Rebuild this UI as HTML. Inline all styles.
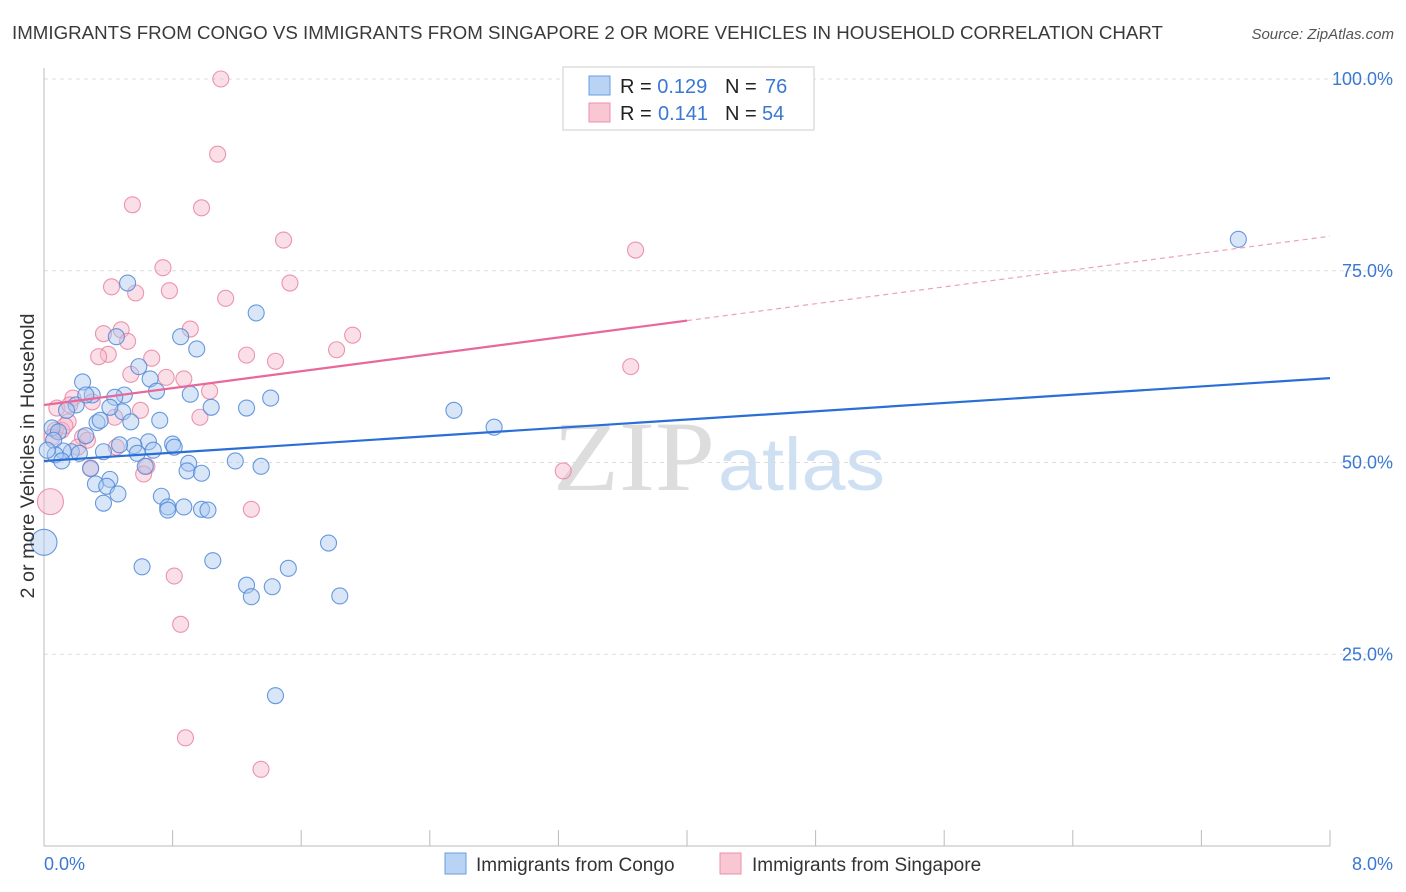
<!DOCTYPE html>
<html><head><meta charset="utf-8"><style>
body{margin:0;background:#fff;font-family:"Liberation Sans",sans-serif;}
#wrap{position:relative;width:1406px;height:892px;overflow:hidden;}
</style></head><body>
<div id="wrap">
<svg id="chart" width="1406" height="892" xmlns="http://www.w3.org/2000/svg">
<text x="12" y="39" font-size="18" fill="#3a3a3a" textLength="1151" lengthAdjust="spacingAndGlyphs">IMMIGRANTS FROM CONGO VS IMMIGRANTS FROM SINGAPORE 2 OR MORE VEHICLES IN HOUSEHOLD CORRELATION CHART</text>
<text x="1394" y="39" font-size="15" fill="#555" font-style="italic" text-anchor="end">Source: ZipAtlas.com</text>
<text x="715" y="490" font-size="100" fill="#ddd" font-family="Liberation Serif,serif" text-anchor="end" textLength="162" lengthAdjust="spacingAndGlyphs">ZIP</text>
<text x="718" y="490" font-size="74" fill="#cfe0f3" text-anchor="start" textLength="167" lengthAdjust="spacingAndGlyphs">atlas</text>
<g id="grid"></g><g id="axes"></g><g id="pts"></g><g id="lines"></g>
<text x="34" y="456" font-size="19" fill="#333" text-anchor="middle" transform="rotate(-90 34 456)" textLength="285" lengthAdjust="spacingAndGlyphs">2 or more Vehicles in Household</text>
<text x="44" y="870" font-size="18" fill="#3a78d4">0.0%</text>
<text x="1393" y="870" font-size="18" fill="#3a78d4" text-anchor="end">8.0%</text>
<g>
<rect x="563" y="67" width="251" height="63" fill="#fff" stroke="#ddd" stroke-width="1.5"/>
<rect x="589" y="76" width="21" height="19" fill="#b9d3f5" stroke="#6a9de0"/>
<rect x="589" y="103" width="21" height="19" fill="#f9c6d4" stroke="#ec8fab"/>
<text x="620" y="93" font-size="20" fill="#222">R = <tspan fill="#3a78d4">0.129</tspan><tspan x="725">N = </tspan><tspan x="765" fill="#3a78d4">76</tspan></text>
<text x="620" y="120" font-size="20" fill="#222">R = <tspan x="658" fill="#3a78d4">0.141</tspan><tspan x="725">N = </tspan><tspan x="762" fill="#3a78d4">54</tspan></text>
</g>
<g>
<rect x="445" y="853" width="21" height="21" fill="#b9d3f5" stroke="#6a9de0"/>
<text x="476" y="871" font-size="19" fill="#333">Immigrants from Congo</text>
<rect x="720" y="853" width="21" height="21" fill="#f9c6d4" stroke="#ec8fab"/>
<text x="752" y="871" font-size="19" fill="#333">Immigrants from Singapore</text>
</g>
</svg>
</div>
<script>
const yTicks=[25,50,75,100];
const yTickLabels=["25.0%","50.0%","75.0%","100.0%"];
const blueX=[7.43,0.52,1.32,0.85,0.45,0.95,0.59,0.24,0.66,0.70,0.91,0.50,0.30,0.44,1.41,0.20,1.04,1.26,0.14,0.49,0.41,0.54,0.33,2.55,2.80,0.05,0.09,0.26,0.06,0.65,0.80,0.56,0.68,0.81,0.37,0.17,0.22,0.12,0.58,0.07,0.11,1.19,1.35,0.90,0.89,0.63,0.98,0.29,0.41,0.32,0.39,0.46,0.73,0.37,0.87,0.77,0.98,1.02,0.77,0.00,1.77,1.05,0.61,1.52,1.26,1.42,1.29,1.84,1.44,0.02,0.35,0.26,0.72,0.47];
const blueY=[79.1,73.4,69.5,66.4,66.4,64.8,62.5,60.5,60.9,59.3,58.9,58.8,58.8,58.5,58.4,57.5,57.2,57.1,56.8,56.6,57.2,55.3,55.2,56.8,54.6,54.5,54.0,53.5,52.9,52.7,52.4,52.2,51.6,52.0,51.4,51.4,51.2,51.5,51.2,51.0,50.2,50.2,49.5,49.9,48.9,49.5,48.6,49.2,47.8,47.2,46.9,45.9,45.6,44.7,44.2,44.2,43.9,43.8,43.8,39.6,39.5,37.2,36.4,36.2,34.0,33.8,32.5,32.6,19.6,51.6,55.5,58.8,55.5,52.3];
const blueBig=[59];
const pinkX=[1.10,1.08,0.55,0.98,1.49,3.68,0.74,1.53,0.42,0.78,0.57,1.13,0.91,0.48,0.37,0.52,1.92,0.40,0.34,1.26,1.44,1.82,0.67,3.65,0.54,0.76,0.87,1.03,0.18,0.30,0.08,0.60,0.44,0.97,0.15,0.11,0.24,0.21,0.45,0.64,0.29,0.62,3.23,0.04,1.29,0.81,0.85,0.88,1.35,0.07,0.13,0.05,0.27,0.16];
const pinkY=[100,90.2,83.6,83.2,79.0,77.7,75.4,73.4,72.9,72.4,72.1,71.4,67.4,67.3,66.8,65.8,66.6,64.1,63.8,64.0,63.2,64.7,63.6,62.5,61.5,61.1,60.9,59.3,58.4,57.9,57.1,56.8,55.9,55.9,55.3,54.2,53.3,52.0,52.0,49.5,49.3,48.5,48.9,44.9,43.9,35.2,28.9,14.1,10.0,54.2,54.8,53.3,52.9,57.5];
const pinkBig=[43];
const blueTrend=[50.2,61.0];
const pinkTrend=[57.5,79.5];
const pinkSolidEnd=4.0;

const NS="http://www.w3.org/2000/svg";
const X0=44,X1=1330,Y0=846,Y100=79;
function sx(v){return X0+(X1-X0)*v/8;}
function sy(v){return Y0-(Y0-Y100)*v/100;}
function mk(tag,attrs,parent){const e=document.createElementNS(NS,tag);for(const k in attrs)e.setAttribute(k,attrs[k]);parent.appendChild(e);return e;}
const grid=document.getElementById('grid'),axes=document.getElementById('axes'),pts=document.getElementById('pts'),lines=document.getElementById('lines');
yTicks.forEach((t,i)=>{
 const l=mk('line',{x1:X0,x2:1392,y1:sy(t),y2:sy(t),stroke:'#ddd','stroke-dasharray':'4,4'},grid);
 
 
 const tx=mk('text',{x:1393,y:sy(t)+6,'font-size':18,fill:'#3a78d4','text-anchor':'end'},grid);
 tx.textContent=yTickLabels[i];
 
 
});
const ya=mk('line',{x1:X0,x2:X0,y1:68,y2:Y0,stroke:'#bbb'},axes);


const xa=mk('line',{x1:X0,x2:X1,y1:Y0,y2:Y0,stroke:'#bbb'},axes);


for(let i=0;i<=10;i++){
 const t=mk('line',{x1:sx(i*0.8),x2:sx(i*0.8),y1:830,y2:Y0,stroke:'#bbb'},axes);
 
 
}
function drawPts(xs,ys,big,fill,stroke,name){
 xs.forEach((x,i)=>{
  const r=big.includes(i)?13:8;
  const c=mk('circle',{cx:sx(x),cy:sy(ys[i]),r:r,fill:fill,'fill-opacity':0.45,stroke:stroke,'stroke-width':1.1,'stroke-opacity':0.85},pts);
  
  
 });
}
drawPts(pinkX,pinkY,pinkBig,'#f7b8cb','#e9849f','singapore-point');
drawPts(blueX,blueY,blueBig,'#a9c8f0','#4f88d8','congo-point');
const bl=mk('line',{x1:sx(0),y1:sy(blueTrend[0]),x2:sx(8),y2:sy(blueTrend[1]),stroke:'#2b6fd6','stroke-width':2.2},lines);


const pm=pinkTrend[0]+(pinkTrend[1]-pinkTrend[0])*pinkSolidEnd/8;
const pl=mk('line',{x1:sx(0),y1:sy(pinkTrend[0]),x2:sx(pinkSolidEnd),y2:sy(pm),stroke:'#e8689a','stroke-width':2.2},lines);


const pd=mk('line',{x1:sx(pinkSolidEnd),y1:sy(pm),x2:sx(8),y2:sy(pinkTrend[1]),stroke:'#eea0bb','stroke-width':1.2,'stroke-dasharray':'5,4'},lines);


</script>
</body></html>
